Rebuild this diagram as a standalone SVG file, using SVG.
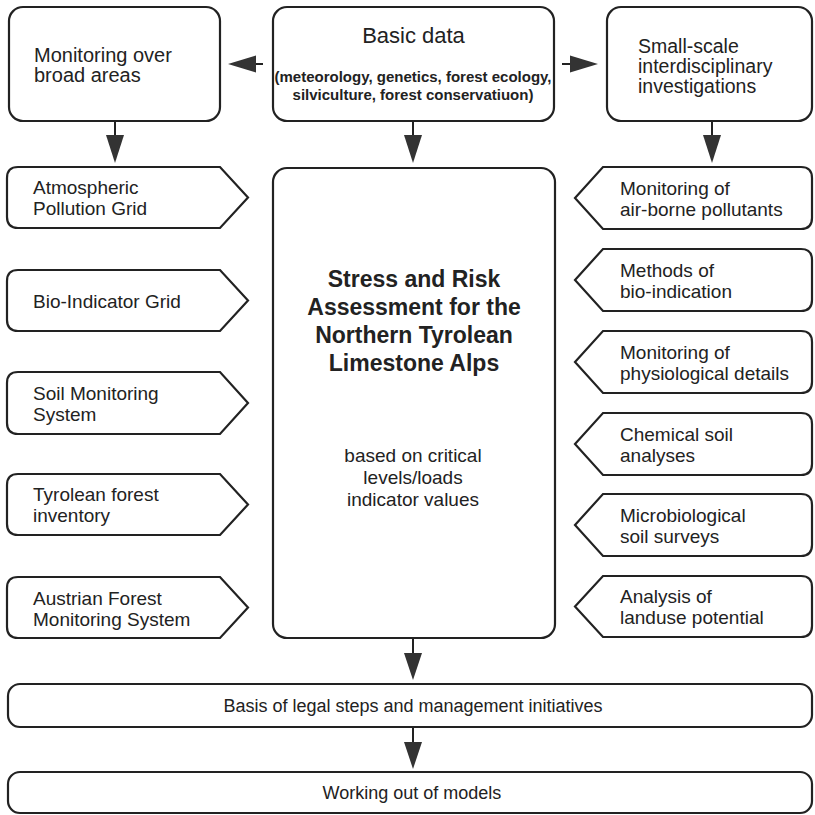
<svg xmlns="http://www.w3.org/2000/svg" width="815" height="815" viewBox="0 0 815 815">
<defs>
<style>
.box{fill:#fff;stroke:#222;stroke-width:2.2}
.t{font-family:"Liberation Sans",Arial,sans-serif;fill:#222}
.top{font-size:19.5px}
.pl{font-size:19px}
.bs{font-size:15px;font-weight:bold}
.ttl{font-size:23px;font-weight:bold}
.sub{font-size:19px}
.bt{font-size:18px}
.stem{stroke:#222;stroke-width:2;fill:none}
.head{fill:#333}
</style>
</defs>
<rect width="815" height="815" fill="#fff"/>
<g id="connectors">
<line class="stem" x1="263" y1="64" x2="250" y2="64"/><polygon class="head" points="228,64 256,55.5 256,72.5"/>
<line class="stem" x1="562" y1="64" x2="575" y2="64"/><polygon class="head" points="598,64 570,55.5 570,72.5"/>
<line class="stem" x1="115" y1="122" x2="115" y2="140"/><polygon class="head" points="115,163 106,135 124,135"/>
<line class="stem" x1="413" y1="122" x2="413" y2="140"/><polygon class="head" points="413,163 404,135 422,135"/>
<line class="stem" x1="712" y1="122" x2="712" y2="140"/><polygon class="head" points="712,163 703,135 721,135"/>
<line class="stem" x1="413" y1="639" x2="413" y2="658"/><polygon class="head" points="413,680 404,653 422,653"/>
<line class="stem" x1="413" y1="728" x2="413" y2="746"/><polygon class="head" points="413,769 404,742 422,742"/>
</g>
<g id="monitoring-broad">
<rect class="box" x="9" y="7" width="211" height="114" rx="14"/>
<text class="t" font-size="20"><tspan x="34" y="62">Monitoring over</tspan><tspan x="34" y="82">broad areas</tspan></text>
</g>
<g id="basic-data">
<rect class="box" x="273" y="7" width="281" height="114" rx="14"/>
<text class="t" x="413.5" y="43" text-anchor="middle" font-size="22">Basic data</text>
<text class="t bs" text-anchor="middle"><tspan x="413" y="82">(meteorology, genetics, forest ecology,</tspan><tspan x="413" y="100">silviculture, forest conservatiuon)</tspan></text>
</g>
<g id="small-scale">
<rect class="box" x="607" y="7" width="205" height="114" rx="14"/>
<text class="t top"><tspan x="638" y="53">Small-scale</tspan><tspan x="638" y="73">interdisciplinary</tspan><tspan x="638" y="93">investigations</tspan></text>
</g>
<g id="stress-risk">
<rect class="box" x="273" y="168" width="282" height="470" rx="14"/>
<text class="t ttl" text-anchor="middle"><tspan x="414" y="287">Stress and Risk</tspan><tspan x="414" y="315">Assessment for the</tspan><tspan x="414" y="343">Northern Tyrolean</tspan><tspan x="414" y="371">Limestone Alps</tspan></text>
<text class="t sub" text-anchor="middle"><tspan x="413" y="462">based on critical</tspan><tspan x="413" y="484">levels/loads</tspan><tspan x="413" y="506">indicator values</tspan></text>
</g>
<g id="atmospheric">
<path class="box" d="M18,167H220L248,197.5L220,228H18Q7,228 7,217V178Q7,167 18,167Z"/>
<text class="t pl"><tspan x="33" y="194">Atmospheric</tspan><tspan x="33" y="215">Pollution Grid</tspan></text>
</g>
<g id="bio-indicator">
<path class="box" d="M18,270H220L248,300.5L220,331H18Q7,331 7,320V281Q7,270 18,270Z"/>
<text class="t pl" x="33" y="307.5">Bio-Indicator Grid</text>
</g>
<g id="soil-monitoring">
<path class="box" d="M18,372H220L248,403L220,434H18Q7,434 7,423V383Q7,372 18,372Z"/>
<text class="t pl"><tspan x="33" y="399.5">Soil Monitoring</tspan><tspan x="33" y="420.5">System</tspan></text>
</g>
<g id="tyrolean-inventory">
<path class="box" d="M18,474H220L248,504.5L220,535H18Q7,535 7,524V485Q7,474 18,474Z"/>
<text class="t pl"><tspan x="33" y="501">Tyrolean forest</tspan><tspan x="33" y="522">inventory</tspan></text>
</g>
<g id="austrian-monitoring">
<path class="box" d="M18,577H220L248,607.5L220,638H18Q7,638 7,627V588Q7,577 18,577Z"/>
<text class="t pl"><tspan x="33" y="605">Austrian Forest</tspan><tspan x="33" y="626">Monitoring System</tspan></text>
</g>
<g id="air-borne">
<path class="box" d="M603,167H801Q812,167 812,178V218Q812,229 801,229H603L575,198Z"/>
<text class="t pl"><tspan x="620" y="194.5">Monitoring of</tspan><tspan x="620" y="215.5">air-borne pollutants</tspan></text>
</g>
<g id="bio-indication">
<path class="box" d="M603,249H801Q812,249 812,260V300Q812,311 801,311H603L575,280Z"/>
<text class="t pl"><tspan x="620" y="276.5">Methods of</tspan><tspan x="620" y="297.5">bio-indication</tspan></text>
</g>
<g id="physiological">
<path class="box" d="M603,331H801Q812,331 812,342V382Q812,393 801,393H603L575,362Z"/>
<text class="t pl"><tspan x="620" y="358.5">Monitoring of</tspan><tspan x="620" y="379.5">physiological details</tspan></text>
</g>
<g id="chemical-soil">
<path class="box" d="M603,413H801Q812,413 812,424V464Q812,475 801,475H603L575,444Z"/>
<text class="t pl"><tspan x="620" y="440.5">Chemical soil</tspan><tspan x="620" y="461.5">analyses</tspan></text>
</g>
<g id="microbiological">
<path class="box" d="M603,494H801Q812,494 812,505V545Q812,556 801,556H603L575,525Z"/>
<text class="t pl"><tspan x="620" y="521.5">Microbiological</tspan><tspan x="620" y="542.5">soil surveys</tspan></text>
</g>
<g id="landuse">
<path class="box" d="M603,576H801Q812,576 812,587V626Q812,637 801,637H603L575,606.5Z"/>
<text class="t pl"><tspan x="620" y="603">Analysis of</tspan><tspan x="620" y="624">landuse potential</tspan></text>
</g>
<g id="legal-steps">
<rect class="box" x="8" y="684" width="804" height="43" rx="12"/>
<text class="t bt" x="413" y="712" text-anchor="middle">Basis of legal steps and management initiatives</text>
</g>
<g id="models">
<rect class="box" x="8" y="772" width="804" height="41" rx="12"/>
<text class="t bt" x="412" y="799" text-anchor="middle">Working out of models</text>
</g>
</svg>
